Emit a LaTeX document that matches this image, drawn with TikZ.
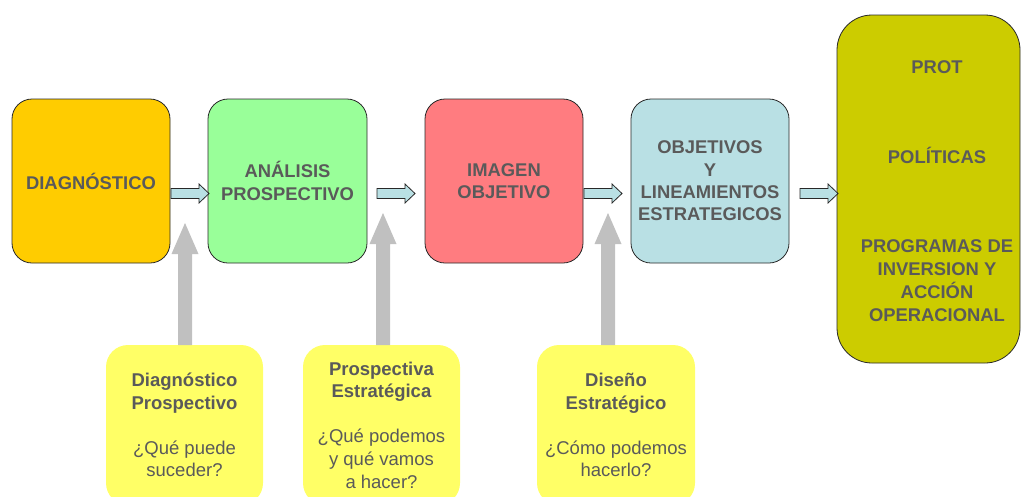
\documentclass[tikz,border=0pt]{standalone}
\usepackage{fontspec}
\setmainfont{Liberation Sans}
\usetikzlibrary{calc}
\definecolor{txt}{RGB}{90,90,90}
\definecolor{cdiag}{RGB}{255,204,0}
\definecolor{canal}{RGB}{153,255,153}
\definecolor{cimag}{RGB}{255,124,128}
\definecolor{cobj}{RGB}{185,224,228}
\definecolor{cprot}{RGB}{204,204,0}
\definecolor{cyel}{RGB}{255,255,102}
\definecolor{cgray}{RGB}{192,192,192}
\definecolor{cline}{RGB}{40,40,40}
\begin{document}
\begin{tikzpicture}[x=1pt,y=-1pt,
  stagebox/.style={draw=cline, line width=0.8pt, rounded corners=20pt,
    minimum width=158pt, minimum height=164pt, inner sep=0pt, outer sep=0pt,
    align=center, text=txt, font=\bfseries\fontsize{18.4}{22.3}\selectfont},
  bigbox/.style={draw=cline, line width=0.8pt, rounded corners=35pt, fill=cprot,
    minimum width=183pt, minimum height=348pt, inner sep=0pt, outer sep=0pt},
  bigtext/.style={align=center, text=txt, inner sep=0pt, font=\bfseries\fontsize{18.4}{22.8}\selectfont},
  yelbox/.style={fill=cyel, rounded corners=22pt, minimum width=157pt, minimum height=160pt,
    inner sep=0pt, outer sep=0pt, align=center, text=txt, font=\fontsize{18.5}{22.6}\selectfont},
  barrow/.style={fill=cobj, draw=cline, line width=0.8pt, line join=miter},
  garrow/.style={fill=cgray},
  pics/blockarr/.style={code={\filldraw[barrow] (0,-5) -- (28,-5) -- (28,-9.5) -- (38,0) -- (28,9.5) -- (28,5) -- (0,5) -- cycle;}},
  pics/uparr/.style={code={\fill[garrow] (-7,0) -- (-7,{-#1+31}) -- (-13.5,{-#1+31}) -- (0,-#1) -- (13.5,{-#1+31}) -- (7,{-#1+31}) -- (7,0) -- cycle;}}
]
\useasboundingbox (0,0) rectangle (1022,496);

% top row
\node[stagebox, fill=cdiag] (diag) at (91,181) {DIAGNÓSTICO};
\node[stagebox, fill=canal, minimum width=159pt] (anal) at (287.5,181) {ANÁLISIS\\PROSPECTIVO};
\node[stagebox, fill=cimag] (imag) at (504,181) {IMAGEN\\OBJETIVO};
\node[stagebox, fill=cobj] (obj) at (710,181) {OBJETIVOS\\Y\\LINEAMIENTOS\\ESTRATEGICOS};
\node[bigbox] (prot) at (928.5,189) {};
\node[bigtext] (prott) at (937,191) {PROT\\[67pt]POLÍTICAS\\[66.5pt]PROGRAMAS DE\\INVERSION Y\\ACCIÓN\\OPERACIONAL};

% block arrows
\pic at ($(diag.east)+(1,12.5)$) {blockarr};
\pic at ($(anal.east)+(10,12.5)$) {blockarr};
\pic at ($(imag.east)+(1,12.5)$) {blockarr};
\pic at ($(obj.east)+(11,12.5)$) {blockarr};

% bottom boxes
\node[yelbox] (y1) at (184.5,425) {\textbf{Diagnóstico}\\\textbf{Prospectivo}\\[22.6pt]¿Qué puede\\suceder?};
\node[yelbox] (y2) at (381.5,425) {\textbf{Prospectiva}\\\textbf{Estratégica}\\[22.6pt]¿Qué podemos\\y qué vamos\\a hacer?};
\node[yelbox, minimum width=158pt] (y3) at (616,425) {\textbf{Diseño}\\\textbf{Estratégico}\\[22.6pt]¿Cómo podemos\\hacerlo?};

% gray arrows
\pic at ($(y1.north)+(0.5,0)$) {uparr=122};
\pic at ($(y2.north)+(1.5,0)$) {uparr=132};
\pic at ($(y3.north)+(-8,0)$) {uparr=132};
\end{tikzpicture}
\end{document}
